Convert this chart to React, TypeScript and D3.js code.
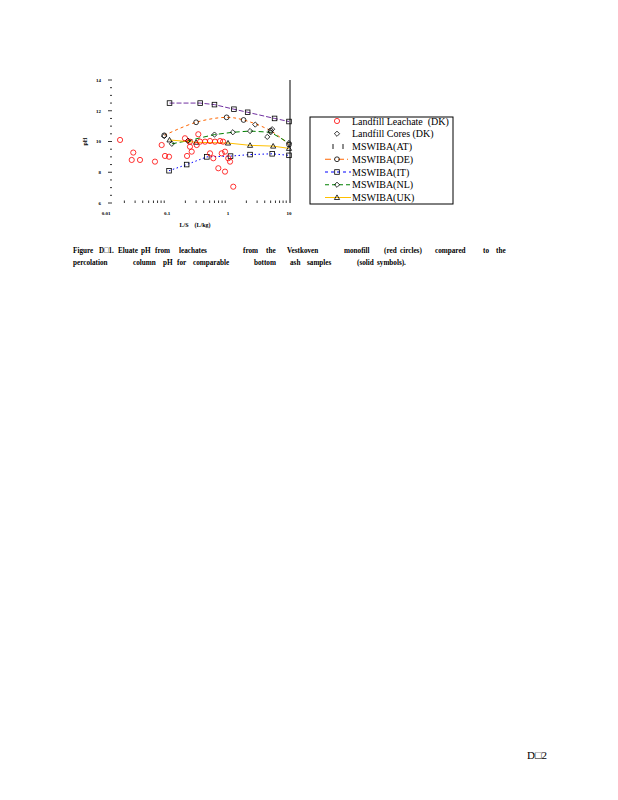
import React from 'react';
import * as d3 from 'd3';

// ---- data (L/S in L/kg, pH) ----
const leachateLS = [0.017, 0.028, 0.0264, 0.0361, 0.0635, 0.0818, 0.0927, 0.108, 0.197, 0.238, 0.238, 0.254, 0.213, 0.307, 0.326, 0.348, 0.42, 0.507, 0.612, 0.74, 0.83, 0.507, 0.574, 0.789, 0.893, 1.01, 1.08, 0.694, 0.893, 1.22];
const leachatePH = [10.1, 9.28, 8.8, 8.8, 8.69, 9.77, 9.06, 9.01, 10.21, 9.99, 9.66, 9.34, 9.06, 9.77, 10.47, 9.99, 9.99, 10.03, 9.99, 10.03, 9.99, 9.23, 8.91, 9.23, 9.34, 8.91, 8.69, 8.26, 8.04, 7.06];

const coresLS = [0.09, 0.22, 2.8, 5.3, 4.4];
const coresPH = [10.35, 10.05, 11.1, 10.8, 10.3];

const atLS = [0.11, 0.35, 0.6, 1.25, 2.1, 5.8, 10];
const atPH = [12.5, 12.5, 12.4, 12.1, 11.9, 11.5, 11.3];

const deLS = [0.09, 0.3, 0.95, 1.8, 5, 10];
const dePH = [10.4, 11.25, 11.57, 11.4, 10.7, 9.8];

const itLS = [0.108, 0.21, 0.45, 1.1, 2.3, 5.3, 10];
const itPH = [8.1, 8.5, 9.0, 9.05, 9.15, 9.2, 9.1];

const nlLS = [0.12, 0.22, 0.6, 1.2, 2.3, 5, 10];
const nlPH = [9.85, 10.05, 10.45, 10.6, 10.68, 10.6, 9.9];

const ukLS = [0.11, 0.3, 1.0, 2.3, 5.5, 10];
const ukPH = [10.1, 9.95, 9.9, 9.75, 9.7, 9.55];

const xMajorTicks = [0.01, 0.1, 1, 10];
const xTickLabels = ['0.01', '0.1', '1', '10'];
const yTickLabels = [6, 8, 10, 12, 14];

const legendLabels = [
  'Landfill Leachate  (DK)',
  'Landfill Cores (DK)',
  'MSWIBA(AT)',
  'MSWIBA(DE)',
  'MSWIBA(IT)',
  'MSWIBA(NL)',
  'MSWIBA(UK)',
];

const captionLine1 = ['Figure', 'D\u25A11.', 'Eluate', 'pH', 'from', 'leachates', 'from', 'the', 'Vestkoven', 'monofill', '(red', 'circles)', 'compared', 'to', 'the'];
const captionLine2 = ['percolation', 'column', 'pH', 'for', 'comparable', 'bottom', 'ash', 'samples', '(solid', 'symbols).'];
const pageNumber = 'D\u25A12';

// ---- layout (word start positions of the justified caption) ----
const cap1X = [73, 99, 118, 141, 155, 179, 243, 266, 287, 344, 384, 400, 435, 483, 496];
const cap2X = [73, 133, 163, 177, 193, 254, 290, 307, 357, 377];

const zip = (a: number[], b: number[]) => a.map((v, i) => [v, b[i]] as [number, number]);

const COL = {
  red: '#FF0000',
  orange: '#FF6600',
  blue: '#0000FF',
  green: '#008000',
  gold: '#FFC000',
  purple: '#7030A0',
};

export default function App() {
  const x = d3.scaleLog().domain([0.01, 10]).range([106, 289]);
  const y = d3.scaleLinear().domain([6, 14]).range([203, 80]);
  const line = d3.line<[number, number]>().x(d => x(d[0])).y(d => y(d[1]));
  const smooth = d3.line<[number, number]>().x(d => x(d[0])).y(d => y(d[1])).curve(d3.curveCatmullRom);

  const minorX: number[] = [];
  [0.01, 0.1, 1].forEach(d => { for (let m = 2; m <= 9; m++) minorX.push(d * m); });
  const yTicks = d3.range(6, 14.01, 0.5);

  const sq = (cx: number, cy: number, k: string) => (
    <rect key={k} x={cx - 2.3} y={cy - 2.3} width={4.6} height={4.6} fill="none" stroke="#000" strokeWidth={0.8} />
  );
  const circ = (cx: number, cy: number, k: string, c = '#000', r = 2.4) => (
    <circle key={k} cx={cx} cy={cy} r={r} fill="none" stroke={c} strokeWidth={0.8} />
  );
  const dia = (cx: number, cy: number, k: string) => (
    <path key={k} d={`M${cx},${cy - 2.6}L${cx + 2.6},${cy}L${cx},${cy + 2.6}L${cx - 2.6},${cy}Z`} fill="none" stroke="#000" strokeWidth={0.8} />
  );
  const tri = (cx: number, cy: number, k: string) => (
    <path key={k} d={`M${cx},${cy - 2.6}L${cx + 2.6},${cy + 2}L${cx - 2.6},${cy + 2}Z`} fill="none" stroke="#000" strokeWidth={0.8} />
  );

  const at = zip(atLS, atPH);
  const de = zip(deLS, dePH);
  const it = zip(itLS, itPH);
  const nl = zip(nlLS, nlPH);
  const uk = zip(ukLS, ukPH);
  const leach = zip(leachateLS, leachatePH);
  const cores = zip(coresLS, coresPH);

  const legRowY = (i: number) => 121 + i * 12.75;
  const lx = 337;

  const capWord = (w: string, xx: number, yy: number, k: string) => (
    <text key={k} transform={`translate(${xx},${yy}) scale(0.8,1)`} fontSize={9} fontWeight="bold">{w}</text>
  );

  return (
    <svg width={618} height={800} style={{ position: 'absolute', left: 0, top: 0 }} fontFamily="'Liberation Serif', 'Times New Roman', serif">
      <rect x={0} y={0} width={618} height={800} fill="#fff" />
      {/* y ticks */}
      {yTicks.map((t, i) => {
        const major = Math.abs(t % 2) < 1e-6;
        return <line key={'yt' + i} x1={major ? 108 : 110} x2={112} y1={y(t)} y2={y(t)} stroke="#000" strokeWidth={0.8} />;
      })}
      {yTickLabels.map(t => (
        <text key={'yl' + t} x={101} y={y(t) + 1.8} fontSize={5} fontWeight="bold" textAnchor="end">{t}</text>
      ))}
      <text transform={`translate(87,${y(10)}) rotate(-90)`} fontSize={6} fontWeight="bold" textAnchor="middle">pH</text>
      {/* x ticks */}
      {minorX.map((t, i) => (
        <line key={'xm' + i} x1={x(t)} x2={x(t)} y1={203} y2={200.5} stroke="#000" strokeWidth={0.8} />
      ))}
      {xMajorTicks.map((t, i) => (
        <text key={'xl' + i} x={x(t)} y={215} fontSize={5} fontWeight="bold" textAnchor="middle">{xTickLabels[i]}</text>
      ))}
      <text x={195} y={227} fontSize={6} fontWeight="bold" textAnchor="middle" style={{ whiteSpace: 'pre' }}>{'L/S    (L/kg)'}</text>
      {/* right frame line */}
      <line x1={290} x2={290} y1={80} y2={203} stroke="#000" strokeWidth={1} />

      {/* series lines */}
      <path d={line(at) || ''} fill="none" stroke={COL.purple} strokeWidth={1} strokeDasharray="5,2" />
      <path d={smooth(de) || ''} fill="none" stroke={COL.orange} strokeWidth={1} strokeDasharray="3,3" />
      <path d={line(it) || ''} fill="none" stroke={COL.blue} strokeWidth={1} strokeDasharray="1.5,2.5" />
      <path d={line(nl) || ''} fill="none" stroke={COL.green} strokeWidth={1} strokeDasharray="5,3" />
      <path d={line(uk) || ''} fill="none" stroke={COL.gold} strokeWidth={1} />

      {/* markers */}
      {at.map((d, i) => sq(x(d[0]), y(d[1]), 'at' + i))}
      {it.map((d, i) => sq(x(d[0]), y(d[1]), 'it' + i))}
      {de.map((d, i) => circ(x(d[0]), y(d[1]), 'de' + i))}
      {nl.map((d, i) => dia(x(d[0]), y(d[1]), 'nl' + i))}
      {uk.map((d, i) => tri(x(d[0]), y(d[1]), 'uk' + i))}
      {cores.map((d, i) => dia(x(d[0]), y(d[1]), 'co' + i))}
      {leach.map((d, i) => circ(x(d[0]), y(d[1]), 'le' + i, COL.red, 2.6))}

      {/* legend */}
      <rect x={310} y={117} width={143} height={87} fill="none" stroke="#000" strokeWidth={1} />
      {legendLabels.map((l, i) => (
        <text key={'lg' + i} x={352} y={legRowY(i) + 3.5} fontSize={10} style={{ whiteSpace: 'pre' }}>{l}</text>
      ))}
      {circ(lx, legRowY(0), 'lg0', COL.red, 2.6)}
      {dia(lx, legRowY(1), 'lg1')}
      <line x1={333} x2={333} y1={legRowY(2) - 2.5} y2={legRowY(2) + 2.5} stroke="#000" strokeWidth={0.9} />
      <line x1={343} x2={343} y1={legRowY(2) - 2.5} y2={legRowY(2) + 2.5} stroke="#000" strokeWidth={0.9} />
      <line x1={325} x2={351} y1={legRowY(3)} y2={legRowY(3)} stroke={COL.orange} strokeWidth={1} strokeDasharray="6,3,1,3" />
      {circ(lx, legRowY(3), 'lg3')}
      <line x1={325} x2={351} y1={legRowY(4)} y2={legRowY(4)} stroke={COL.blue} strokeWidth={1} strokeDasharray="3,3" />
      {sq(lx, legRowY(4), 'lg4')}
      <line x1={325} x2={351} y1={legRowY(5)} y2={legRowY(5)} stroke={COL.green} strokeWidth={1} strokeDasharray="4,3" />
      {dia(lx, legRowY(5), 'lg5')}
      <line x1={325} x2={351} y1={legRowY(6)} y2={legRowY(6)} stroke={COL.gold} strokeWidth={1} />
      {tri(lx, legRowY(6), 'lg6')}

      {/* caption */}
      {captionLine1.map((w, i) => capWord(w, cap1X[i], 252.5, 'c1' + i))}
      {captionLine2.map((w, i) => capWord(w, cap2X[i], 265, 'c2' + i))}
      <text x={527} y={759} fontSize={11}>{pageNumber}</text>
    </svg>
  );
}
